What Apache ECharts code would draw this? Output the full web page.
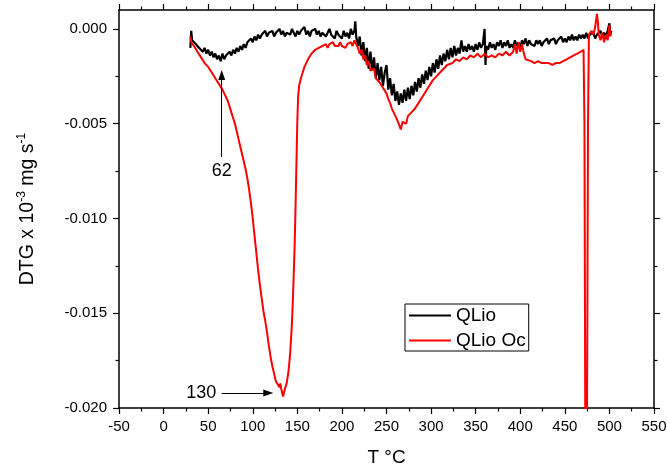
<!DOCTYPE html>
<html>
<head>
<meta charset="utf-8">
<script src="https://cdn.jsdelivr.net/npm/echarts@6/dist/echarts.min.js"></script>
<style>html,body{margin:0;padding:0;background:#fff}#c{width:667px;height:470px}</style>
</head>
<body>
<div id="c"></div>
<script>
// ---- data (T in °C, DTG values) ----
const tQLio = [30,31,32,34,36,38,40,42,44,46,48,50,52,54,56,58,60,62,64,66,68,70,72,74,76,78,80,82,84,86,88,90,92,94,96,98,100,102,104,106,108,110,112,114,116,118,120,122,124,126,128,130,132,134,136,138,140,142,144,146,148,150,152,154,156,158,160,162,164,166,168,170,172,174,176,178,180,182,184,186,188,190,192,194,196,198,200,202,204,206,208,210,212,214,215,216,218,220,222,224,226,228,230,232,234,236,238,240,242,244,246,248,250,252,254,256,258,260,262,264,266,268,270,272,274,276,278,280,282,284,286,288,290,292,294,296,298,300,302,304,306,308,310,312,314,316,318,320,322,324,326,328,330,332,334,336,338,340,342,344,346,348,350,352,354,356,358,360,361,362,364,366,368,370,372,374,376,378,380,382,384,386,388,390,392,394,396,398,400,402,404,406,408,410,412,414,416,418,420,422,424,426,428,430,432,434,436,438,440,442,444,446,448,450,452,454,456,458,460,462,464,466,468,470,472,474,476,478,480,482,484,486,488,490,492,494,496,498,500,501,502];
const dtgQLio = [-0.0010,-0.0001,-0.0006,-0.0005,-0.0008,-0.0007,-0.0010,-0.0009,-0.0012,-0.0010,-0.0013,-0.0011,-0.0014,-0.0012,-0.0015,-0.0013,-0.0016,-0.0014,-0.0017,-0.0013,-0.0016,-0.0014,-0.0015,-0.0012,-0.0014,-0.0011,-0.0013,-0.0010,-0.0012,-0.0009,-0.0011,-0.0008,-0.0010,-0.0007,-0.0008,-0.0005,-0.0007,-0.0004,-0.0006,-0.0003,-0.0005,-0.0003,-0.0004,-0.0001,-0.0004,-0.0002,-0.0003,-0.0001,-0.0004,-0.0002,-0.0003,0.0000,-0.0003,-0.0001,-0.0004,-0.0002,-0.0001,-0.0003,0.0000,-0.0002,-0.0004,-0.0001,-0.0003,-0.0001,-0.0002,0.0001,-0.0003,-0.0001,-0.0004,-0.0001,-0.0002,0.0000,-0.0003,-0.0001,-0.0004,-0.0002,-0.0001,-0.0004,-0.0002,0.0000,-0.0003,-0.0002,-0.0005,-0.0001,-0.0003,-0.0002,-0.0005,-0.0001,-0.0004,-0.0002,-0.0005,0.0000,-0.0003,-0.0001,0.0004,-0.0004,-0.0009,-0.0004,-0.0014,-0.0007,-0.0017,-0.0010,-0.0021,-0.0012,-0.0022,-0.0015,-0.0026,-0.0018,-0.0027,-0.0020,-0.0030,-0.0023,-0.0019,-0.0032,-0.0026,-0.0035,-0.0029,-0.0038,-0.0033,-0.0040,-0.0034,-0.0039,-0.0032,-0.0038,-0.0031,-0.0037,-0.0030,-0.0035,-0.0028,-0.0033,-0.0026,-0.0031,-0.0024,-0.0029,-0.0022,-0.0027,-0.0020,-0.0025,-0.0018,-0.0023,-0.0016,-0.0021,-0.0014,-0.0019,-0.0013,-0.0017,-0.0011,-0.0016,-0.0010,-0.0015,-0.0009,-0.0014,-0.0010,-0.0013,-0.0006,-0.0012,-0.0009,-0.0012,-0.0008,-0.0011,-0.0009,-0.0012,-0.0008,-0.0011,-0.0007,-0.0010,-0.0008,0.0000,-0.0019,-0.0009,-0.0011,-0.0007,-0.0010,-0.0008,-0.0011,-0.0007,-0.0009,-0.0006,-0.0010,-0.0007,-0.0009,-0.0006,-0.0010,-0.0008,-0.0010,-0.0006,-0.0009,-0.0007,-0.0010,-0.0006,-0.0008,-0.0005,-0.0009,-0.0006,-0.0008,-0.0007,-0.0009,-0.0006,-0.0008,-0.0006,-0.0009,-0.0007,-0.0008,-0.0005,-0.0008,-0.0006,-0.0007,-0.0005,-0.0008,-0.0006,-0.0007,-0.0004,-0.0007,-0.0005,-0.0007,-0.0004,-0.0006,-0.0003,-0.0006,-0.0004,-0.0006,-0.0003,-0.0005,-0.0003,-0.0005,-0.0002,-0.0005,-0.0003,-0.0004,-0.0002,-0.0005,-0.0003,-0.0004,-0.0001,-0.0004,-0.0002,-0.0004,-0.0001,0.0003,-0.0003,-0.0001];

const tQLioOc = [30,31,32,34,36,38,40,42,44,46,48,50,52,54,56,58,60,62,64,66,68,70,72,74,76,78,80,82,84,86,88,90,92,94,96,98,100,102,104,106,108,110,112,114,116,118,120,122,124,126,128,130,131,132,133,134,135,136,138,140,142,144,145,146,147,148,149,150,151,152,154,156,158,160,162,164,166,168,170,172,174,176,178,180,182,184,186,188,190,192,194,196,198,200,202,204,206,208,210,212,214,216,218,220,222,224,226,228,230,232,234,236,238,240,242,244,246,248,250,252,254,256,258,260,262,264,266,268,270,272,274,276,278,280,282,284,286,288,290,292,294,296,298,300,302,304,306,308,310,312,314,316,318,320,324,328,332,336,340,344,348,352,356,360,364,368,372,376,380,384,388,392,394,396,398,400,402,404,406,408,412,416,420,424,428,432,436,440,444,448,452,456,460,464,468,471,472,473,474.5,476,477,478,480,482,484,486,487,488,490,492,494,496,498,500,501,502];
const dtgQLioOc = [-0.0004,-0.0007,-0.0006,-0.0009,-0.0009,-0.0012,-0.0012,-0.0015,-0.0015,-0.0018,-0.0018,-0.0020,-0.0020,-0.0023,-0.0023,-0.0026,-0.0026,-0.0029,-0.0030,-0.0032,-0.0034,-0.0036,-0.0038,-0.0041,-0.0044,-0.0047,-0.0050,-0.0054,-0.0058,-0.0062,-0.0066,-0.0070,-0.0074,-0.0079,-0.0085,-0.0092,-0.0100,-0.0109,-0.0118,-0.0127,-0.0135,-0.0142,-0.0149,-0.0154,-0.0160,-0.0167,-0.0173,-0.0178,-0.0182,-0.0186,-0.0187,-0.0189,-0.0187,-0.0190,-0.0189,-0.0194,-0.0192,-0.0190,-0.0187,-0.0181,-0.0171,-0.0155,-0.0143,-0.0129,-0.0114,-0.0094,-0.0071,-0.0048,-0.0035,-0.0030,-0.0026,-0.0023,-0.0020,-0.0018,-0.0016,-0.0015,-0.0013,-0.0013,-0.0011,-0.0012,-0.0010,-0.0011,-0.0009,-0.0010,-0.0008,-0.0010,-0.0008,-0.0009,-0.0007,-0.0009,-0.0008,-0.0009,-0.0007,-0.0009,-0.0008,-0.0010,-0.0008,-0.0009,-0.0007,-0.0009,-0.0006,-0.0008,-0.0010,-0.0013,-0.0011,-0.0016,-0.0014,-0.0019,-0.0017,-0.0022,-0.0023,-0.0021,-0.0026,-0.0026,-0.0028,-0.0029,-0.0031,-0.0032,-0.0034,-0.0037,-0.0039,-0.0042,-0.0044,-0.0046,-0.0048,-0.0049,-0.0053,-0.0049,-0.0048,-0.0050,-0.0046,-0.0047,-0.0044,-0.0045,-0.0042,-0.0042,-0.0039,-0.0039,-0.0036,-0.0036,-0.0033,-0.0033,-0.0030,-0.0030,-0.0027,-0.0027,-0.0025,-0.0024,-0.0023,-0.0022,-0.0021,-0.0020,-0.0019,-0.0019,-0.0018,-0.0016,-0.0017,-0.0015,-0.0016,-0.0014,-0.0015,-0.0013,-0.0015,-0.0013,-0.0015,-0.0014,-0.0015,-0.0013,-0.0014,-0.0012,-0.0014,-0.0012,-0.0008,-0.0013,-0.0007,-0.0012,-0.0008,-0.0013,-0.0016,-0.0017,-0.0017,-0.0018,-0.0017,-0.0018,-0.0018,-0.0018,-0.0019,-0.0018,-0.0018,-0.0017,-0.0016,-0.0015,-0.0014,-0.0013,-0.0012,-0.0011,-0.0050,-0.0220,-0.0260,-0.0050,-0.0003,-0.0004,-0.0001,-0.0003,0.0001,0.0008,0.0004,-0.0003,-0.0006,-0.0002,-0.0007,-0.0003,-0.0006,0.0002,-0.0004,-0.0002];

const xTicks = {min: -50, max: 550, step: 50};
const yTickValues = [-0.020, -0.015, -0.010, -0.005, 0.000];
const yRange = {min: -0.020, max: 0.001};
const seriesNames = ['QLio', 'QLio Oc'];

// annotations (data coordinates)
const ann62 = {label: '62', x: 65.2, yFrom: -0.00676, yTo: -0.00243, yText: -0.00749};
const ann130 = {label: '130', xText: 42.2, xFrom: 65.2, xTo: 117.4, y: -0.01921};

const FONT = "'Liberation Sans', Arial, sans-serif";
const toPairs = (xs, ys) => xs.map((x, i) => [x, ys[i]]);

const chart = echarts.init(document.getElementById('c'), null, {renderer: 'canvas'});

const xAxisBase = {
  type: 'value', min: xTicks.min, max: xTicks.max, interval: xTicks.step,
  axisLine: {show: true, onZero: false, lineStyle: {color: '#000', width: 1.5}},
  axisTick: {show: true, inside: false, length: 6, lineStyle: {color: '#000', width: 1.2}},
  minorTick: {show: true, splitNumber: 2, length: 3.5, lineStyle: {color: '#000', width: 1.2}},
  splitLine: {show: false}
};
const yAxisBase = {
  type: 'value', min: yRange.min, max: yRange.max, interval: 0.005,
  axisLine: {show: true, onZero: false, lineStyle: {color: '#000', width: 1.5}},
  axisTick: {show: true, inside: false, length: 6, customValues: yTickValues, lineStyle: {color: '#000', width: 1.2}},
  minorTick: {show: true, splitNumber: 2, length: 3.5, lineStyle: {color: '#000', width: 1.2}},
  splitLine: {show: false}
};

chart.setOption({
  animation: false,
  backgroundColor: '#fff',
  textStyle: {fontFamily: FONT},
  grid: {left: 119, top: 10, right: 13, bottom: 62, containLabel: false, outerBoundsMode: 'none'},
  legend: {
    orient: 'vertical', left: 405, top: 304, padding: [2, 3, 1, 4], itemGap: 6,
    itemWidth: 42, itemHeight: 2, icon: 'rect', selectedMode: false,
    borderColor: '#000', borderWidth: 1, backgroundColor: '#fff',
    textStyle: {fontSize: 19, color: '#000', fontFamily: FONT},
    data: seriesNames
  },
  xAxis: [
    Object.assign({}, xAxisBase, {
      position: 'bottom', name: 'T °C', nameLocation: 'middle', nameGap: 40,
      nameTextStyle: {fontSize: 19, color: '#000', fontFamily: FONT},
      axisLabel: {show: true, fontSize: 15, color: '#000', margin: 11, fontFamily: FONT}
    }),
    Object.assign({}, xAxisBase, {position: 'top', axisLabel: {show: false}})
  ],
  yAxis: [
    Object.assign({}, yAxisBase, {
      position: 'left', name: '{t|DTG x 10}{s|-3}{t| mg s}{s|-1}', nameLocation: 'middle', nameGap: 79,
      nameTextStyle: {color: '#000', fontFamily: FONT, rich: {
        t: {fontSize: 19.5, lineHeight: 24, color: '#000', fontFamily: FONT},
        s: {fontSize: 12, verticalAlign: 'top', color: '#000', fontFamily: FONT}
      }},
      axisLabel: {show: true, fontSize: 15, color: '#000', margin: 12, fontFamily: FONT,
        customValues: yTickValues, formatter: v => v.toFixed(3)}
    }),
    Object.assign({}, yAxisBase, {position: 'right', axisLabel: {show: false}})
  ],
  series: [
    {
      name: seriesNames[0], type: 'line', xAxisIndex: 0, yAxisIndex: 0,
      data: toPairs(tQLio, dtgQLio), showSymbol: false, symbol: 'none',
      lineStyle: {color: '#000', width: 2.2}, itemStyle: {color: '#000'}, z: 2,
      markLine: {
        silent: true, symbol: ['none', 'triangle'], symbolSize: [7, 10],
        label: {show: false}, lineStyle: {color: '#000', width: 1, type: 'solid'},
        emphasis: {disabled: true},
        data: [
          [{coord: [ann62.x, ann62.yFrom]}, {coord: [ann62.x, ann62.yTo]}],
          [{coord: [ann130.xFrom, ann130.y]}, {coord: [ann130.xTo, ann130.y]}]
        ]
      },
      markPoint: {
        silent: true, symbol: 'rect', symbolSize: 0,
        label: {show: true, position: 'inside', fontSize: 18, color: '#000', fontFamily: FONT, formatter: '{b}'},
        data: [
          {name: ann62.label, coord: [ann62.x, ann62.yText]},
          {name: ann130.label, coord: [ann130.xText, ann130.y]}
        ]
      }
    },
    {
      name: seriesNames[1], type: 'line', xAxisIndex: 0, yAxisIndex: 0,
      data: toPairs(tQLioOc, dtgQLioOc), showSymbol: false, symbol: 'none',
      lineStyle: {color: '#ff0000', width: 2}, itemStyle: {color: '#ff0000'}, z: 3
    }
  ]
});
</script>
</body>
</html>
